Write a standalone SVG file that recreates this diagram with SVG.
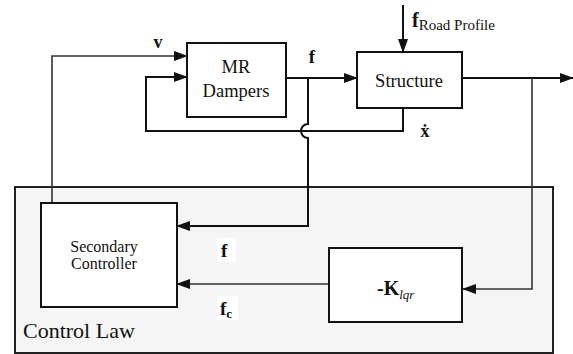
<svg xmlns="http://www.w3.org/2000/svg" width="573" height="354" viewBox="0 0 573 354">
<style>
.box{fill:#fff;stroke:#111;stroke-width:2}
.ln{fill:none;stroke:#111;stroke-width:2}
.thin{fill:none;stroke:#333;stroke-width:1.6}
text{fill:#111}
.b{font-weight:bold}
</style>
<defs>
<marker id="ar" markerWidth="14" markerHeight="10" refX="13" refY="5" orient="auto" markerUnits="userSpaceOnUse">
<path d="M0,0 L14,5 L0,10 Z" fill="#111"/>
</marker>
</defs>
<rect width="573" height="354" fill="#fff"/>
<g id="control-law" font-family="'Liberation Serif', 'Times New Roman', 'DejaVu Serif', serif">
<rect x="15" y="187" width="538" height="166" fill="#f5f5f5" stroke="#222" stroke-width="2"/>
<text x="23" y="338" font-size="22" fill="#222">Control Law</text>
</g>
<g id="connectors">
<path class="thin" d="M52,203 V56 H187" marker-end="url(#ar)"/>
<path class="ln" d="M403,108 V131 H146 V77 H187" marker-end="url(#ar)"/>
<path class="ln" d="M286,78 H357" marker-end="url(#ar)"/>
<path class="ln" d="M308,78 V124 A7,7 0 0 0 308,138 V226 H177" marker-end="url(#ar)"/>
<path class="ln" d="M462,78 H573" marker-end="url(#ar)"/>
<path class="thin" d="M532,78 V289 H463" marker-end="url(#ar)"/>
<path class="thin" d="M329,284 H177" marker-end="url(#ar)"/>
<path class="ln" d="M403,5 V52" marker-end="url(#ar)"/>
</g>
<g id="mr-dampers" font-family="'Liberation Serif', 'Times New Roman', 'DejaVu Serif', serif">
<rect class="box" x="187" y="43" width="99" height="74"/>
<text x="236" y="73" font-size="18.5" text-anchor="middle">MR</text>
<text x="236" y="97" font-size="18.5" text-anchor="middle">Dampers</text>
</g>
<g id="structure" font-family="'Liberation Serif', 'Times New Roman', 'DejaVu Serif', serif">
<rect class="box" x="357" y="52" width="105" height="56"/>
<text x="409" y="87" font-size="18.5" text-anchor="middle">Structure</text>
</g>
<g id="secondary-controller" font-family="'Liberation Serif', 'Times New Roman', 'DejaVu Serif', serif">
<rect class="box" x="41" y="203" width="136" height="104"/>
<text x="104" y="252" font-size="16" text-anchor="middle">Secondary</text>
<text x="104" y="269" font-size="16" text-anchor="middle">Controller</text>
</g>
<g id="k-lqr" font-family="'Liberation Serif', 'Times New Roman', 'DejaVu Serif', serif">
<rect class="box" x="329" y="248" width="133" height="74"/>
<text x="377" y="295" font-size="20"><tspan class="b">-K</tspan><tspan font-size="13" font-style="italic" dy="4">lqr</tspan></text>
</g>
<g id="labels" font-family="'Liberation Serif', 'Times New Roman', 'DejaVu Serif', serif">
<text class="b" x="158" y="48" font-size="18" text-anchor="middle">v</text>
<text class="b" x="312" y="63" font-size="19" text-anchor="middle">f</text>
<text x="412" y="27" font-size="20"><tspan class="b">f</tspan><tspan font-size="15" dy="3">Road Profile</tspan></text>
<text class="b" x="425" y="137" font-size="18" text-anchor="middle">ẋ</text>
<rect x="217" y="238" width="19" height="24" fill="#fff"/>
<text class="b" x="221" y="257" font-size="19">f</text>
<rect x="217" y="296" width="21" height="24" fill="#fff"/>
<text class="b" x="220" y="315" font-size="19">f<tspan font-size="13" dy="3">c</tspan></text>
</g>
</svg>
